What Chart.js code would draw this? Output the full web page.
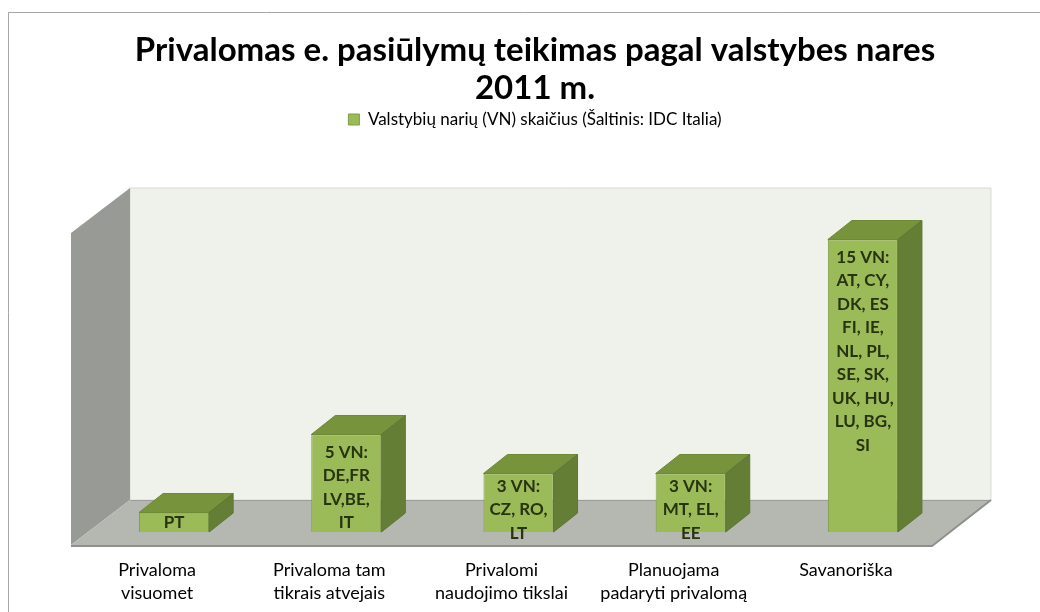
<!DOCTYPE html>
<html lang="lt">
<head>
<meta charset="utf-8">
<title>Privalomas e. pasiūlymų teikimas</title>
<script src="https://cdn.jsdelivr.net/npm/chart.js@4"></script>
<style>
    html, body { margin: 0; padding: 0; background: #ffffff; overflow: hidden; }
    #wrap { width: 1040px; height: 612px; }
</style>
</head>
<body>
<div id="wrap"><canvas id="chart1" width="1040" height="612"></canvas></div>
<script>
const categories = [
    ['Privaloma', 'visuomet'],
    ['Privaloma tam', 'tikrais atvejais'],
    ['Privalomi', 'naudojimo tikslai'],
    ['Planuojama', 'padaryti privalomą'],
    'Savanoriška'
];
const memberCounts = [1, 5, 3, 3, 15];
const barTexts = [
    ['PT'],
    ['5 VN:', 'DE,FR', 'LV,BE,', 'IT'],
    ['3 VN:', 'CZ, RO,', 'LT'],
    ['3 VN:', 'MT, EL,', 'EE'],
    ['15 VN:', 'AT, CY,', 'DK, ES', 'FI, IE,', 'NL, PL,', 'SE, SK,', 'UK, HU,', 'LU, BG,', 'SI']
];
const seriesLabel = 'Valstybių narių (VN) skaičius (Šaltinis: IDC Italia)';
const titleLines = ['Privalomas e. pasiūlymų teikimas pagal valstybes nares', '2011 m.'];
const axisMax = 16;

const fontFamily = "Lato, 'Noto Sans', sans-serif";

// 3D look: offsets of the bar depth and of the floor/walls from the bar front plane
const barDepth = { dx: 24, dy: -19 };
const frontOff = { dx: -17, dy: 13 };
const backOff = { dx: 42, dy: -32 };

function poly(ctx, pts, fill, stroke, lw) {
    ctx.beginPath();
    ctx.moveTo(pts[0][0], pts[0][1]);
    for (let i = 1; i < pts.length; i++) ctx.lineTo(pts[i][0], pts[i][1]);
    ctx.closePath();
    if (fill) { ctx.fillStyle = fill; ctx.fill(); }
    if (stroke) { ctx.strokeStyle = stroke; ctx.lineWidth = lw || 1; ctx.stroke(); }
}

const frame3d = {
    id: 'frame3d',
    beforeDraw(chart) {
        const ctx = chart.ctx;
        // outer chart border (cut at right and bottom)
        ctx.save();
        ctx.strokeStyle = '#a6a6a6';
        ctx.lineWidth = 1;
        ctx.beginPath();
        ctx.moveTo(8.5, chart.height);
        ctx.lineTo(8.5, 12.5);
        ctx.lineTo(chart.width, 12.5);
        ctx.stroke();
        ctx.restore();
    },
    beforeDatasetsDraw(chart) {
        const ctx = chart.ctx;
        const y = chart.scales.y;
        const xl = chart.chartArea.left, xr = chart.chartArea.right;
        const yb = y.getPixelForValue(0), yt = y.getPixelForValue(axisMax);
        const f = frontOff, b = backOff;
        ctx.save();
        // back wall
        poly(ctx, [[xl + b.dx, yt + b.dy], [xr + b.dx, yt + b.dy], [xr + b.dx, yb + b.dy], [xl + b.dx, yb + b.dy]], '#eff2ea', '#d9dbd6', 1);
        // left wall
        poly(ctx, [[xl + f.dx, yt + f.dy], [xl + b.dx, yt + b.dy], [xl + b.dx, yb + b.dy], [xl + f.dx, yb + f.dy]], '#989a95');
        // floor
        poly(ctx, [[xl + f.dx, yb + f.dy], [xl + b.dx, yb + b.dy], [xr + b.dx, yb + b.dy], [xr + f.dx, yb + f.dy]], '#b5b7b1');
        ctx.strokeStyle = '#9c9d9a';
        ctx.lineWidth = 1;
        ctx.beginPath();
        ctx.moveTo(xl + b.dx, yb + b.dy + 0.5);
        ctx.lineTo(xr + b.dx, yb + b.dy + 0.5);
        ctx.stroke();
        // floor edge (thickness)
        ctx.strokeStyle = '#8f908d';
        ctx.lineWidth = 2;
        ctx.beginPath();
        ctx.moveTo(xl + f.dx, yb + f.dy + 1);
        ctx.lineTo(xr + f.dx, yb + f.dy + 1);
        ctx.lineTo(xr + b.dx, yb + b.dy);
        ctx.stroke();
        ctx.restore();
    },
    afterDatasetsDraw(chart) {
        const ctx = chart.ctx;
        const meta = chart.getDatasetMeta(0);
        const d = barDepth;
        ctx.save();
        meta.data.forEach((bar, i) => {
            const p = bar.getProps(['x', 'y', 'base', 'width'], true);
            const x0 = p.x - p.width / 2, x1 = p.x + p.width / 2;
            // top face
            poly(ctx, [[x0, p.y], [x0 + d.dx, p.y + d.dy], [x1 + d.dx, p.y + d.dy], [x1, p.y]], '#77933c', '#6f8a37', 1);
            // side face
            poly(ctx, [[x1, p.y], [x1 + d.dx, p.y + d.dy], [x1 + d.dx, p.base + d.dy], [x1, p.base]], '#657e36', '#5e7632', 1);
        });

        // labels inside the bars
        ctx.font = 'bold 17px ' + fontFamily;
        ctx.fillStyle = '#28330f';
        ctx.textAlign = 'center';
        ctx.textBaseline = 'middle';
        const lineH = 23.5;
        meta.data.forEach((bar, i) => {
            const p = bar.getProps(['x', 'y', 'base'], true);
            const lines = barTexts[i];
            const n = lines.length;
            let first = p.y + 18;
            if (first + (n - 1) * lineH > p.base - 8) {
                first = (p.y + p.base) / 2 + 3.5 * (n - 1) - (n - 1) * lineH / 2;
            }
            lines.forEach((t, k) => ctx.fillText(t, p.x, first + k * lineH));
        });
        ctx.restore();
    }
};

function createChart(ctx) {
    return new Chart(ctx, {
        type: 'bar',
        data: {
            labels: categories,
            datasets: [{
                label: seriesLabel,
                data: memberCounts,
                backgroundColor: '#9bbb59',
                borderColor: '#7f9d44',
                borderWidth: 1,
                categoryPercentage: 1,
                barPercentage: 0.407
            }]
        },
        options: {
            responsive: false,
            animation: false,
            devicePixelRatio: 1,
            layout: { padding: { left: 88, right: 58, top: 0, bottom: 7.5 } },
            scales: {
                x: {
                    grid: { display: false, drawTicks: false },
                    border: { display: false },
                    ticks: {
                        color: '#000000',
                        font: { family: fontFamily, size: 18, lineHeight: 23 / 18 },
                        padding: 26.5,
                        labelOffset: -17,
                        maxRotation: 0,
                        autoSkip: false
                    },
                    afterFit(scale) { scale.height = 72.5; }
                },
                y: {
                    position: 'right',
                    min: 0,
                    max: axisMax,
                    grid: { display: false, drawTicks: false },
                    border: { display: false },
                    ticks: { display: false },
                    afterFit(scale) { scale.width = 33; }
                }
            },
            plugins: {
                title: {
                    display: true,
                    text: titleLines,
                    color: '#000000',
                    font: { family: fontFamily, size: 33, weight: 'bold', lineHeight: 38 / 33 },
                    padding: { top: 31, bottom: 0 }
                },
                // empty spacer between the legend and the plot
                subtitle: {
                    display: true,
                    text: '',
                    weight: 500,
                    font: { size: 10, lineHeight: 1 },
                    padding: { top: 0, bottom: 72 }
                },
                legend: {
                    display: true,
                    position: 'top',
                    labels: {
                        color: '#000000',
                        font: { family: fontFamily, size: 17 },
                        boxWidth: 11,
                        boxHeight: 11,
                        padding: 4
                    }
                },
                tooltip: { enabled: false }
            }
        },
        plugins: [frame3d]
    });
}

document.addEventListener('DOMContentLoaded', function() {
    const ctx1 = document.getElementById('chart1').getContext('2d');
    createChart(ctx1);
});
</script>
</body>
</html>
